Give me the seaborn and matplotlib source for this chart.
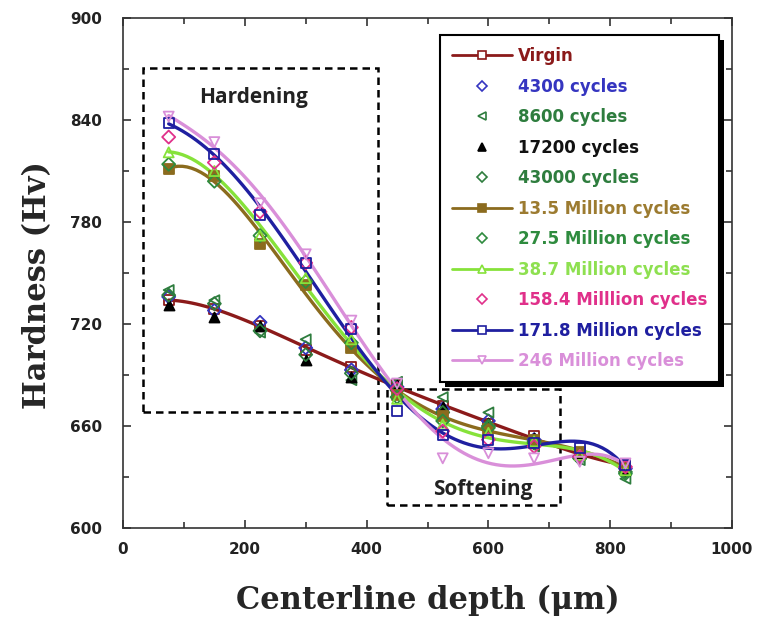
import matplotlib
matplotlib.use("Agg")
import matplotlib.pyplot as plt
from matplotlib.lines import Line2D
from matplotlib.patches import Rectangle
from matplotlib.ticker import MultipleLocator
import numpy as np
import pandas as pd
import seaborn as sns

# Indentation depths along the centerline (micrometres)
depth = [75, 150, 225, 300, 375, 450, 525, 600, 675, 750, 825]

# Vickers hardness for each loading history
virgin = [734, 729, 719, 705, 695, 684, 672, 661, 654, 643, 637]
c4300 = [736, 728, 721, 706, 693, 683, 670, 663, 652, 642, 635]
c8600 = [740, 734, 715, 711, 687, 686, 677, 668, 648, 640, 629]
c17200 = [731, 724, 719, 699, 689, 684, 671, 662, 653, 644, 634]
c43000 = [737, 732, 716, 702, 691, 681, 668, 660, 651, 641, 633]
m13_5 = [811, 807, 767, 743, 706, 678, 666, 658, 652, 645, 636]
m27_5 = [814, 804, 772, 745, 709, 677, 663, 659, 650, 641, 632]
m38_7 = [821, 810, 772, 747, 711, 676, 661, 656, 651, 643, 634]
m158_4 = [830, 815, 786, 756, 718, 682, 657, 652, 648, 642, 636]
m171_8 = [838, 820, 784, 756, 717, 669, 655, 652, 650, 647, 637]
m246 = [842, 827, 791, 761, 722, 685, 641, 644, 641, 639, 638]

labels = ["Virgin", "4300 cycles", "8600 cycles", "17200 cycles", "43000 cycles",
          "13.5 Million cycles", "27.5 Million cycles", "38.7 Million cycles",
          "158.4 Milllion cycles", "171.8 Million cycles", "246 Million cycles"]
values = [virgin, c4300, c8600, c17200, c43000, m13_5, m27_5, m38_7,
          m158_4, m171_8, m246]

# style per series: colour, text colour, marker, filled, fitted curve
styles = [
    ("#8B1A1A", "#8B1A1A", "s", False, True),
    ("#3535C0", "#3535C0", "D", False, False),
    ("#2E7D3E", "#2E7D3E", "<", False, False),
    ("#000000", "#111111", "^", True, False),
    ("#2E7D3E", "#2E7D3E", "D", False, False),
    ("#8B6B1E", "#9C7B30", "s", True, True),
    ("#2E8B3E", "#2E8B3E", "D", False, False),
    ("#86E23A", "#8EE050", "^", False, True),
    ("#E0308A", "#E0308A", "D", False, False),
    ("#1F1FA0", "#1F1FA0", "s", False, True),
    ("#D98FD9", "#D98FD9", "v", False, True),
]

sns.set_style("ticks")
plt.rcParams["font.family"] = ["DejaVu Sans"]

fig = plt.figure(figsize=(7.66, 6.26), dpi=100)
ax = fig.add_axes([0.1606, 0.1565, 0.7950, 0.8147])

handles = []
for lab, ys, (col, tcol, mk, filled, curve) in zip(labels, values, styles):
    df = pd.DataFrame({"depth": depth, "hv": ys})
    if curve:
        sns.regplot(data=df, x="depth", y="hv", order=5, ci=None, scatter=False,
                    truncate=True, ax=ax,
                    line_kws=dict(color=col, lw=2.4, zorder=3))
    msize = 44 if mk == "D" else 52
    sns.scatterplot(data=df, x="depth", y="hv", ax=ax, marker=mk, s=msize,
                    facecolor=col if filled else "none", edgecolor=col,
                    linewidth=1.3, zorder=4, legend=False)
    handles.append(Line2D([], [], color=col, lw=2.0 if curve else 0,
                          marker=mk, markersize=6 if mk != "D" else 5.2,
                          markerfacecolor=col if filled else "white",
                          markeredgecolor=col, markeredgewidth=1.2))

# Regions of interest
ax.add_patch(Rectangle((33, 668), 386, 202.6, fill=False, ec="black",
                       lw=1.8, ls=(0, (3, 2)), zorder=2))
ax.add_patch(Rectangle((434, 613.5), 284, 68.5, fill=False, ec="black",
                       lw=1.8, ls=(0, (3, 2)), zorder=2))
ax.text(215, 853.5, "Hardening", ha="center", va="center", fontsize=15,
        fontweight="bold", family="Open Sans", color="#222222")
ax.text(591, 622.4, "Softening", ha="center", va="center", fontsize=15,
        fontweight="bold", family="Open Sans", color="#222222")

ax.set_xlim(0, 1000)
ax.set_ylim(600, 900)
ax.xaxis.set_major_locator(MultipleLocator(200))
ax.xaxis.set_minor_locator(MultipleLocator(100))
ax.yaxis.set_major_locator(MultipleLocator(60))
ax.yaxis.set_minor_locator(MultipleLocator(30))
ax.tick_params(which="both", direction="in", top=True, right=True,
               color="#333333", width=1.2)
ax.tick_params(which="major", length=6, labelsize=11)
ax.tick_params(axis="x", which="major", pad=10)
ax.tick_params(axis="y", which="major", pad=15)
ax.tick_params(which="minor", length=4)
for t in ax.get_xticklabels() + ax.get_yticklabels():
    t.set_fontweight("bold")
    t.set_color("#222222")
for sp in ax.spines.values():
    sp.set_color("#333333")
    sp.set_linewidth(1.2)

ax.set_xlabel("Centerline depth (\u03bcm)", family="DejaVu Serif",
              fontweight="bold", fontsize=22, labelpad=20)
ax.set_ylabel("Hardness (Hv)", family="DejaVu Serif", fontweight="bold",
              fontsize=22)
ax.yaxis.set_label_coords(-0.115, 0.476)

leg = ax.legend(handles, labels, loc="upper left",
                bbox_to_anchor=(0.5205, 0.9667), borderaxespad=0,
                frameon=True, fancybox=False, framealpha=1,
                edgecolor="black", handlelength=3.6, handletextpad=0.36,
                labelspacing=0.75, borderpad=0.72,
                prop=dict(family="DejaVu Sans", weight="bold", size=12))
leg.get_frame().set_linewidth(1.5)
leg.set_zorder(6)
for txt, (col, tcol, *_rest) in zip(leg.get_texts(), styles):
    txt.set_color(tcol)

# solid offset shadow under the legend box
fig.canvas.draw()
bb = leg.get_window_extent().transformed(ax.transAxes.inverted())
dx = 5 / (ax.bbox.width)
dy = 5 / (ax.bbox.height)
ax.add_patch(Rectangle((bb.x0 + dx, bb.y0 - dy), bb.width, bb.height,
                       transform=ax.transAxes, fc="black", ec="none",
                       zorder=5.5, clip_on=False))

fig.savefig("out.png", dpi=100, facecolor="white")
